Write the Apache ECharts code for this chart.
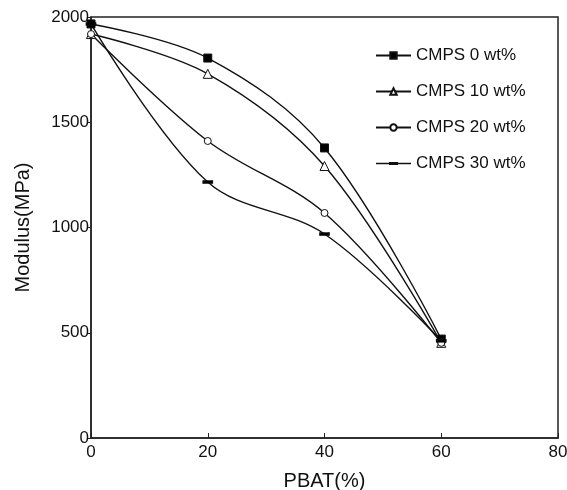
<!DOCTYPE html>
<html>
<head>
<meta charset="utf-8">
<script src="https://cdn.jsdelivr.net/npm/echarts@6/dist/echarts.min.js"></script>
<style>html,body{margin:0;padding:0;background:#fff;}#c{width:567px;height:490px;}</style>
</head>
<body>
<div id="c"></div>
<script>
const xValues = [0, 20, 40, 60];
const cmps0 = [1967, 1805, 1378, 470];
const cmps10 = [1919, 1730, 1292, 452];
const cmps20 = [1919, 1411, 1069, 452];
const cmps30 = [1967, 1216, 969, 462];
const seriesNames = ['CMPS 0 wt%', 'CMPS 10 wt%', 'CMPS 20 wt%', 'CMPS 30 wt%'];
const xTicks = [0, 20, 40, 60, 80];
const yTicks = [0, 500, 1000, 1500, 2000];

const font = '"Liberation Sans", Arial, sans-serif';
const pair = arr => xValues.map((x, i) => [x, arr[i]]);
const symbols = ['rect', 'triangle', 'circle', 'rect'];
const sizes = [8, 9, 7, [9, 3]];
const fills = ['#000', '#fff', '#fff', '#000'];
const datas = [cmps0, cmps10, cmps20, cmps30];

const legendData = seriesNames.map((n, i) => i === 3
  ? {name: n, icon: 'path://M0,4.3H35V5.7H0Z M13,3.6H22V6.4H13Z', itemStyle: {color: '#111', borderWidth: 0}}
  : {name: n});

const chart = echarts.init(document.getElementById('c'), null, {renderer: 'canvas'});
chart.setOption({
  animation: false,
  backgroundColor: '#fff',
  grid: {left: 91, right: 9, top: 17, bottom: 52, outerBoundsMode: 'none', containLabel: false,
    show: true, borderColor: '#222', borderWidth: 1.5, backgroundColor: 'transparent'},
  legend: {
    orient: 'vertical', left: 370, top: 42,
    itemWidth: 35, itemHeight: 8, itemGap: 19,
    textStyle: {fontFamily: font, fontSize: 17, color: '#111', lineHeight: 17},
    data: legendData
  },
  xAxis: {
    type: 'value', min: 0, max: 80, interval: 20,
    name: 'PBAT(%)', nameLocation: 'middle', nameGap: 33,
    nameTextStyle: {fontFamily: font, fontSize: 20, color: '#111'},
    axisLine: {show: true, lineStyle: {color: '#222', width: 1.5}},
    axisTick: {show: true, inside: true, length: 5, lineStyle: {color: '#222'}},
    axisLabel: {fontFamily: font, fontSize: 17, color: '#111', margin: 6,
      formatter: v => xTicks.includes(v) ? String(v) : ''},
    splitLine: {show: false}
  },
  yAxis: {
    type: 'value', min: 0, max: 2000, interval: 500,
    name: 'Modulus(MPa)', nameLocation: 'middle', nameGap: 58,
    nameTextStyle: {fontFamily: font, fontSize: 20, color: '#111'},
    axisLine: {show: true, lineStyle: {color: '#222', width: 1.5}},
    axisTick: {show: true, inside: false, length: 4, lineStyle: {color: '#222'}},
    axisLabel: {fontFamily: font, fontSize: 17, color: '#111', margin: 2,
      formatter: v => yTicks.includes(v) ? String(v) : ''},
    splitLine: {show: false}
  },
  series: seriesNames.map((n, i) => ({
    name: n, type: 'line', smooth: 0.35,
    data: pair(datas[i]),
    symbol: symbols[i], symbolSize: sizes[i], showSymbol: true,
    lineStyle: {color: '#111', width: 1.4},
    itemStyle: {color: fills[i], borderColor: '#111', borderWidth: 1},
    emphasis: {disabled: true}
  }))
});
</script>
</body>
</html>
